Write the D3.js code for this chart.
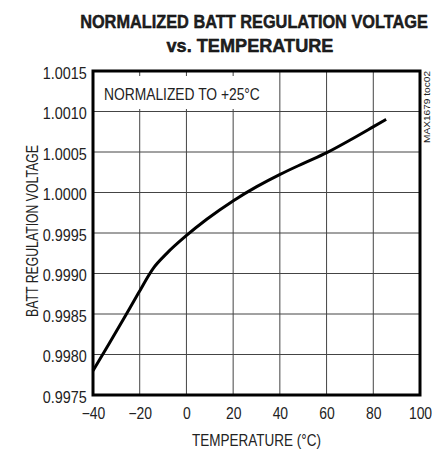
<!DOCTYPE html>
<html><head><meta charset="utf-8">
<script src="https://cdn.jsdelivr.net/npm/d3@7"></script>
<style>body{margin:0;background:#fff}svg{display:block}text{font-family:"Liberation Sans",Arial,sans-serif;fill:#222}</style>
</head><body><svg id="c" width="432" height="454"></svg>
<script>
const temps = [-40, -33, -26.3, -20.6, -14.2, -8.4, -0.6, 8.7, 20.1, 30.1, 40.1, 50.1, 60.1, 70.1, 80.1, 85.5];
const volts = [0.99780, 0.99814, 0.99847, 0.998755, 0.999064, 0.999249, 0.999454, 0.999669, 0.999899, 1.000072, 1.000224, 1.00036, 1.000492, 1.000648, 1.000813, 1.000903];
const xTicks = [-40, -20, 0, 20, 40, 60, 80, 100];
const yTicks = [0.9975, 0.9980, 0.9985, 0.9990, 0.9995, 1.0000, 1.0005, 1.0010, 1.0015];
const titleLines = ["NORMALIZED BATT REGULATION VOLTAGE", "vs. TEMPERATURE"];

const svg = d3.select("#c");
const L = 93, R = 420, T = 71, B = 395;
const x = d3.scaleLinear().domain([-40, 100]).range([L, R]);
const y = d3.scaleLinear().domain([0.9975, 1.0015]).range([B, T]);

// text squeezed horizontally to a target width using a transform
function fitText(cx, cy, str, size, target, anchor, rot, opts) {
  const t = svg.append("text").attr("font-size", size).attr("text-anchor", anchor).text(str);
  if (opts) Object.entries(opts).forEach(([k,v]) => t.attr(k, v));
  const n = t.node().getComputedTextLength();
  const k = target / n;
  t.attr("transform", `translate(${cx},${cy})${rot ? ` rotate(${rot})` : ""} scale(${k},1)`);
  return t;
}

// grid
svg.append("g").selectAll("line").data(xTicks.slice(1,-1)).join("line")
  .attr("x1", d=>x(d)).attr("x2", d=>x(d)).attr("y1", T).attr("y2", B)
  .attr("stroke", "#444").attr("stroke-width", 1);
svg.append("g").selectAll("line").data(yTicks.slice(1,-1)).join("line")
  .attr("x1", L).attr("x2", R).attr("y1", d=>y(d)).attr("y2", d=>y(d))
  .attr("stroke", "#444").attr("stroke-width", 1);

// label box
svg.append("rect").attr("x", L+2).attr("y", 76).attr("width", 170).attr("height", 33).attr("fill", "#fff");
fitText(104, 100, "NORMALIZED TO +25°C", 16, 156, "start");

// curve
const line = d3.line().x((d,i)=>x(temps[i])).y(d=>y(d)).curve(d3.curveMonotoneX);
svg.append("path").attr("d", line(volts)).attr("fill", "none").attr("stroke", "#000").attr("stroke-width", 3).attr("stroke-linejoin","round");

// frame
svg.append("rect").attr("x", L).attr("y", T).attr("width", R-L).attr("height", B-T)
  .attr("fill", "none").attr("stroke", "#000").attr("stroke-width", 3);

// axes
const ya = svg.append("g").attr("transform", `translate(${L},0)`)
  .call(d3.axisLeft(y).tickValues(yTicks).tickFormat(d3.format(".4f")).tickSize(0).tickPadding(7));
ya.select(".domain").remove();
ya.selectAll("text").attr("font-size", 16).attr("font-family", null).attr("fill", "#222").attr("dy", "0.45em")
  .attr("transform", "scale(0.9,1)");

const xa = svg.append("g").attr("transform", `translate(0,${B})`)
  .call(d3.axisBottom(x).tickValues(xTicks).tickFormat(d3.format("d")).tickSize(0).tickPadding(13));
xa.select(".domain").remove();
xa.selectAll("text").attr("font-size", 16).attr("font-family", null).attr("fill", "#222").attr("dy", "0.71em")
  .attr("transform", "scale(0.87,1)");

// axis titles
fitText(256.5, 446, "TEMPERATURE (°C)", 16, 129, "middle");
fitText(38, 231, "BATT REGULATION VOLTAGE", 16, 172, "middle", -90);

// title
const topts = {"font-weight": "bold", "fill": "#000", "stroke": "#000", "stroke-width": 0.4};
fitText(254, 28, titleLines[0], 18, 348, "middle", 0, topts);
fitText(250, 52, titleLines[1], 18, 167, "middle", 0, topts);

// watermark
fitText(430, 71, "MAX1679 toc02", 9, 72, "end", -90);
</script></body></html>
